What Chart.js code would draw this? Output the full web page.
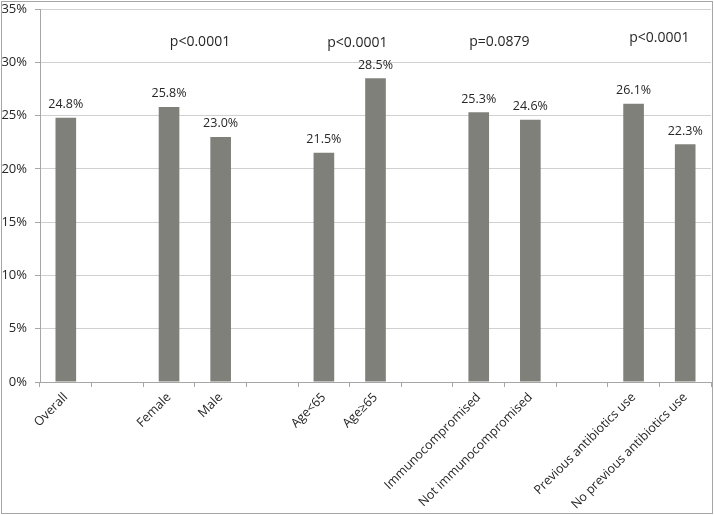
<!DOCTYPE html>
<html>
<head>
<meta charset="utf-8">
<script src="https://cdn.jsdelivr.net/npm/chart.js@4/dist/chart.umd.min.js"></script>
<style>
  html, body { margin: 0; padding: 0; background: #fff; }
  canvas { display: block; }
</style>
</head>
<body>
<canvas id="chart" width="714" height="515"></canvas>
<script>
// categories (blank slots separate the groups)
const categories = ['Overall', '', 'Female', 'Male', '', 'Age<65', 'Age\u226565', '',
  'Immunocompromised', 'Not immunocompromised', '', 'Previous antibiotics use', 'No previous antibiotics use'];
const rates = [24.8, null, 25.8, 23.0, null, 21.5, 28.5, null, 25.3, 24.6, null, 26.1, 22.3];

// p-value notes: text, category position, height in %
const pTexts = ['p<0.0001', 'p<0.0001', 'p=0.0879', 'p<0.0001'];
const pAt    = [2.6, 5.65, 8.4, 11.5];
const pLevel = [31.9, 31.8, 31.9, 32.3];

const yTicks = [0, 5, 10, 15, 20, 25, 30, 35];

const FONT = '"Open Sans", "Liberation Sans", sans-serif';
const TEXT = '#262626';

const extras = {
  id: 'extras',
  afterDatasetsDraw(chart) {
    const ctx = chart.ctx;
    const x = chart.scales.x, y = chart.scales.y;
    ctx.save();
    ctx.fillStyle = TEXT;
    ctx.textAlign = 'center';
    ctx.textBaseline = 'bottom';
    ctx.font = '12.5px ' + FONT;
    chart.getDatasetMeta(0).data.forEach((bar, i) => {
      if (rates[i] == null) return;
      ctx.fillText(rates[i].toFixed(1) + '%', bar.x, bar.y - 7);
    });
    ctx.font = '14px ' + FONT;
    ctx.textBaseline = 'middle';
    pTexts.forEach((t, i) => {
      ctx.fillText(t, x.getPixelForValue(pAt[i]), y.getPixelForValue(pLevel[i]));
    });
    ctx.restore();
  },
  afterDraw(chart) {
    const ctx = chart.ctx;
    ctx.save();
    ctx.strokeStyle = '#a6a6a6';
    ctx.lineWidth = 1;
    ctx.strokeRect(1.5, 1.5, 711, 512);
    ctx.restore();
  }
};

new Chart(document.getElementById('chart'), {
  type: 'bar',
  data: {
    labels: categories,
    datasets: [{
      data: rates,
      backgroundColor: '#80807b',
      borderWidth: 0,
      barPercentage: 1,
      categoryPercentage: 0.4
    }]
  },
  options: {
    responsive: false,
    animation: false,
    layout: { padding: { top: 9, right: 3, left: 0, bottom: 0 } },
    plugins: { legend: { display: false }, tooltip: { enabled: false } },
    scales: {
      x: {
        offset: true,
        grid: { display: true, offset: true, drawOnChartArea: false, drawTicks: true,
                tickLength: 5, tickColor: '#a6a6a6' },
        border: { color: '#a6a6a6' },
        ticks: { color: TEXT, font: { family: FONT, size: 12.5 }, minRotation: 45, maxRotation: 45,
                 autoSkip: false, padding: 3 },
        afterFit(scale) { scale.height = 133; scale.paddingLeft = 0; scale.paddingRight = 0; }
      },
      y: {
        min: 0, max: 35,
        afterBuildTicks(scale) { scale.ticks = yTicks.map(v => ({ value: v })); },
        grid: { color: '#d0d0d0', tickColor: '#a6a6a6', tickLength: 5 },
        border: { color: '#a6a6a6' },
        ticks: { color: TEXT, font: { family: FONT, size: 13 }, padding: 8,
                 callback: v => v + '%' },
        afterFit(scale) { scale.width = 40; scale.paddingTop = 0; scale.paddingBottom = 0; }
      }
    }
  },
  plugins: [extras]
});
</script>
</body>
</html>
